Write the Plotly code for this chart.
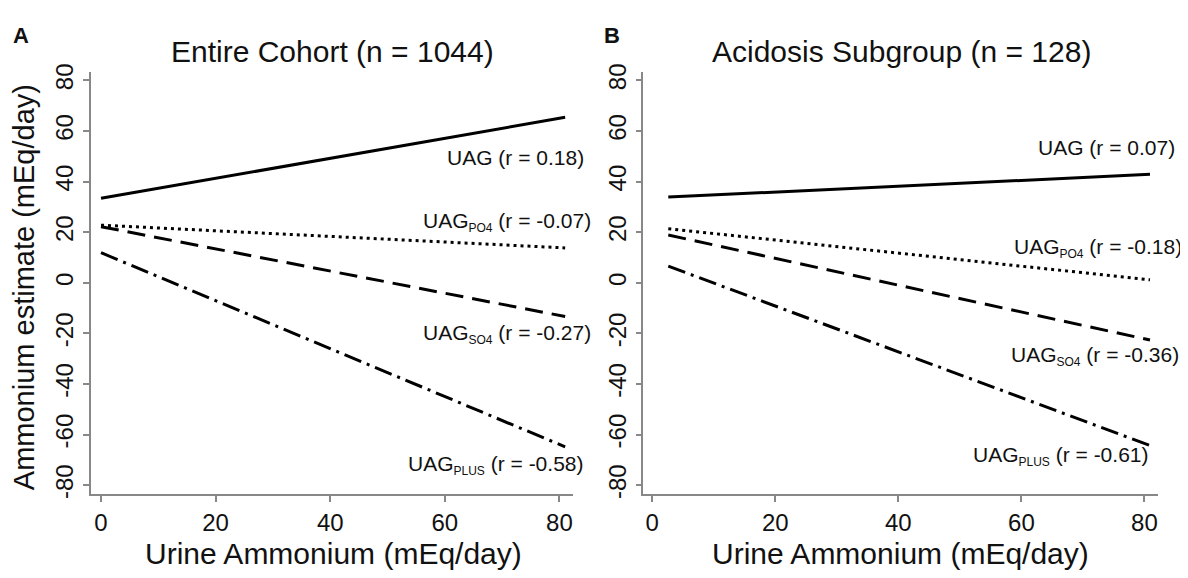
import plotly.graph_objects as go

# page body has an 8px default margin: build the figure 8px smaller and shift coordinates
OFF = 8
W, H = 1188 - OFF, 578 - OFF

# ---- data ----
x_a = [0, 81]
uag_a = [33.4, 65.4]
po4_a = [22.8, 13.8]
so4_a = [22.2, -13.3]
plus_a = [11.9, -64.8]

x_b = [2.6, 80.9]
uag_b = [33.9, 42.9]
po4_b = [21.4, 1.2]
so4_b = [18.9, -22.6]
plus_b = [6.6, -64.3]

SUB = "<sub><span style='font-size:12px'>{}</span></sub>"
series_names = ["UAG", "UAG" + SUB.format("PO4"), "UAG" + SUB.format("SO4"),
                "UAG" + SUB.format("PLUS")]
r_a = ["0.18", "-0.07", "-0.27", "-0.58"]
r_b = ["0.07", "-0.18", "-0.36", "-0.61"]
titles = ["Entire Cohort (n = 1044)", "Acidosis Subgroup (n = 128)"]
panel_letters = ["A", "B"]
x_ticks = [0, 20, 40, 60, 80]
y_ticks = [-80, -60, -40, -20, 0, 20, 40, 60, 80]
y_tick_text = ["-80", "-60", "-40", "-20", "0", "20", "40", "60", "80"]
x_title = "Urine Ammonium (mEq/day)"
y_title = "Ammonium estimate (mEq/day)"

# label anchor positions (right edge, middle) in data units
lab_pos_a = [(84.4, 49.5), (85.7, 24.1), (85.7, -20.3), (84.5, -72.0)]
lab_pos_b = [(85.2, 53.6), (86.2, 13.6), (85.8, -28.9), (80.9, -68.6)]

FONT = "Liberation Sans, Arial, Helvetica, sans-serif"
dashes = ["solid", "3px,4px", "18px,9px", "18px,6px,3px,6px"]

def px_x(p):
    return (p - OFF) / W

def px_y(p):
    return 1 - (p - OFF) / H

# axis geometry (screen pixels) and ranges
ax_a = dict(x0=90.7, x1=573.0, xr=[-1.8, 82.37])
ax_b = dict(x0=643.3, x1=1158.0, xr=[-1.46, 82.2])
y_px = (496.7, 65.0)
y_range = [-83.6, 83.4]

def data_to_paper(ax, xv, yv):
    fx = (xv - ax["xr"][0]) / (ax["xr"][1] - ax["xr"][0])
    fy = (yv - y_range[0]) / (y_range[1] - y_range[0])
    dx0, dx1 = px_x(ax["x0"]), px_x(ax["x1"])
    dy0, dy1 = px_y(y_px[0]), px_y(y_px[1])
    return dx0 + fx * (dx1 - dx0), dy0 + fy * (dy1 - dy0)

fig = go.Figure()

panels = [
    ("x", "y", ax_a, x_a, [uag_a, po4_a, so4_a, plus_a], r_a, lab_pos_a),
    ("x2", "y2", ax_b, x_b, [uag_b, po4_b, so4_b, plus_b], r_b, lab_pos_b),
]
for xr, yr, ax, xs, ys_list, rs, lpos in panels:
    for ys, dash in zip(ys_list, dashes):
        fig.add_trace(go.Scatter(x=xs, y=ys, mode="lines", xaxis=xr, yaxis=yr,
                                 line=dict(color="black", width=3, dash=dash),
                                 showlegend=False, hoverinfo="skip"))
    for name, r, (lx, ly) in zip(series_names, rs, lpos):
        px, py = data_to_paper(ax, lx, ly)
        fig.add_annotation(x=px, y=py, xref="paper", yref="paper", xanchor="right",
                           yanchor="middle", text=f"{name} (r = {r})", showarrow=False,
                           borderpad=0, font=dict(family=FONT, size=21, color="#111"))

axis_common = dict(showgrid=False, zeroline=False, showline=True, linecolor="#888",
                   linewidth=1.5, ticks="outside", ticklen=6, tickcolor="#888", tickwidth=1.5,
                   tickfont=dict(family=FONT, size=24, color="#111"))

fig.update_layout(
    width=W, height=H, margin=dict(l=0, r=0, t=0, b=0),
    paper_bgcolor="white", plot_bgcolor="white",
    xaxis=dict(domain=[px_x(ax_a["x0"]), px_x(ax_a["x1"])], range=ax_a["xr"],
               tickvals=x_ticks, anchor="y", **axis_common),
    yaxis=dict(domain=[px_y(y_px[0]), px_y(y_px[1])], range=y_range, tickvals=y_ticks,
               ticktext=y_tick_text, tickangle=-90, anchor="x", **axis_common),
    xaxis2=dict(domain=[px_x(ax_b["x0"]), px_x(ax_b["x1"])], range=ax_b["xr"],
                tickvals=x_ticks, anchor="y2", **axis_common),
    yaxis2=dict(domain=[px_y(y_px[0]), px_y(y_px[1])], range=y_range, tickvals=y_ticks,
                ticktext=y_tick_text, tickangle=-90, anchor="x2", **axis_common),
)

# titles
for t, cx in zip(titles, [332, 901]):
    fig.add_annotation(x=px_x(cx), y=px_y(44), xref="paper", yref="paper", text=t,
                       showarrow=False, xanchor="center", yanchor="middle",
                       font=dict(family=FONT, size=30, color="#111"))
# panel letters
for letter, lx in zip(panel_letters, [11, 602]):
    fig.add_annotation(x=px_x(lx), y=px_y(28), xref="paper", yref="paper",
                       text=f"<b>{letter}</b>", showarrow=False, xanchor="left",
                       yanchor="middle", font=dict(family=FONT, size=22, color="#111"))
# x axis titles
for cx in [334, 900]:
    fig.add_annotation(x=px_x(cx), y=px_y(557), xref="paper", yref="paper", text=x_title,
                       showarrow=False, xanchor="center", yanchor="middle",
                       font=dict(family=FONT, size=30, color="#111"))
# y axis title
fig.add_annotation(x=px_x(24), y=px_y(285), xref="paper", yref="paper", text=y_title,
                   showarrow=False, textangle=-90, xanchor="center", yanchor="middle",
                   font=dict(family=FONT, size=29, color="#111"))

fig.write_html("out.html")
